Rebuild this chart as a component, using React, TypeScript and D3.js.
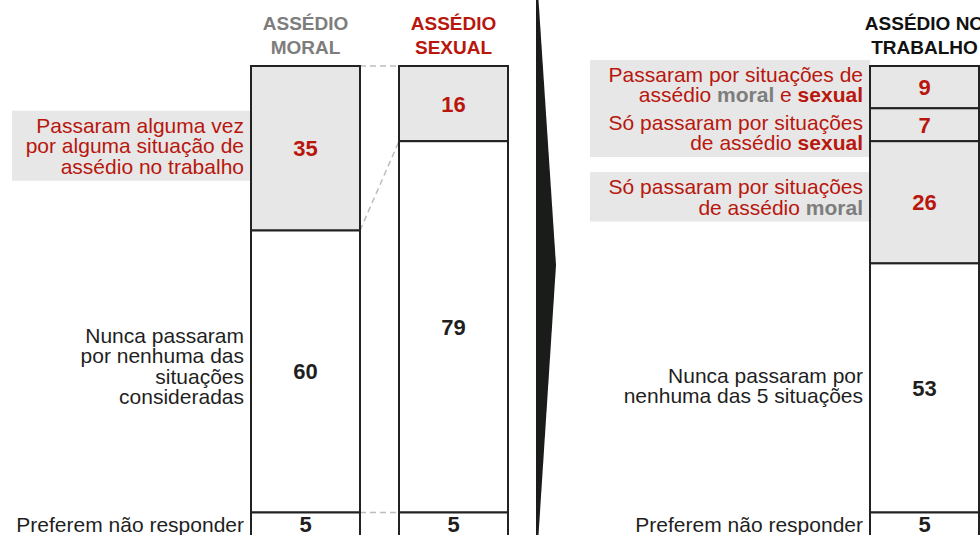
import React from 'react';
import * as d3 from 'd3';

// values (%) per column, top to bottom
const moralValues = [35, 60, 5];
const sexualValues = [16, 79, 5];
const trabalhoValues = [9, 7, 26, 53, 5];
const columnTitles = [['ASSÉDIO', 'MORAL'], ['ASSÉDIO', 'SEXUAL'], ['ASSÉDIO NO', 'TRABALHO']];
// how many of the top segments are "harassment" (grey fill, red number)
const highlightedCounts = [1, 1, 3];

const RED = '#b9160e';
const GREY = '#7d7d7d';
const INK = '#1f1f1f';
const FILL = '#e6e7e6';
const FONT = '"Liberation Sans", Arial, Helvetica, sans-serif';

type Span = { t: string; c?: string; b?: boolean };
type Label = { seg: number; lines: Span[][]; color: string; box?: boolean; dy?: number };

const moralLabels: Label[] = [
  {
    seg: 0, color: RED, box: true,
    lines: [[{ t: 'Passaram alguma vez' }], [{ t: 'por alguma situação de' }], [{ t: 'assédio no trabalho' }]],
  },
  {
    seg: 1, color: INK, dy: -3,
    lines: [[{ t: 'Nunca passaram' }], [{ t: 'por nenhuma das' }], [{ t: 'situações' }], [{ t: 'consideradas' }]],
  },
  { seg: 2, color: INK, dy: 3, lines: [[{ t: 'Preferem não responder' }]] },
];

const trabalhoLabels: Label[] = [
  {
    seg: 0, color: RED, box: true,
    lines: [
      [{ t: 'Passaram por situações de' }],
      [{ t: 'assédio ' }, { t: 'moral', c: GREY, b: true }, { t: ' e ' }, { t: 'sexual', b: true }],
    ],
  },
  {
    seg: 1, color: RED, box: true, dy: 10,
    lines: [[{ t: 'Só passaram por situações' }], [{ t: 'de assédio ' }, { t: 'sexual', b: true }]],
  },
  {
    seg: 2, color: RED, box: true, dy: -3,
    lines: [[{ t: 'Só passaram por situações' }], [{ t: 'de assédio ' }, { t: 'moral', c: GREY, b: true }]],
  },
  {
    seg: 3, color: INK,
    lines: [[{ t: 'Nunca passaram por' }], [{ t: 'nenhuma das 5 situações' }]],
  },
  { seg: 4, color: INK, dy: 3, lines: [[{ t: 'Preferem não responder' }]] },
];

const columns = [
  { values: moralValues, x: 251, w: 109, titleColor: GREY, labels: moralLabels, boxLeft: 12 },
  { values: sexualValues, x: 399, w: 109, titleColor: RED, labels: [] as Label[], boxLeft: 0 },
  { values: trabalhoValues, x: 870, w: 109, titleColor: '#111', labels: trabalhoLabels, boxLeft: 590 },
];

const width = 980;
const height = 535;
const y = d3.scaleLinear().domain([0, 100]).range([66, 536]);
const LH = 20.5;

function bounds(values: number[]) {
  const ends = Array.from(d3.cumsum(values));
  return values.map((v, i) => ({ v, start: i === 0 ? 0 : ends[i - 1], end: ends[i] }));
}

export default function App() {
  const moralB = bounds(moralValues);
  const sexualB = bounds(sexualValues);
  const connectors = [0, 1, 2].map(i => ({
    y1: y(i === 0 ? 0 : moralB[i - 1].end),
    y2: y(i === 0 ? 0 : sexualB[i - 1].end),
  }));

  return (
    <svg width={width} height={height} style={{ position: 'absolute', left: 0, top: 0, background: '#fff' }}
      fontFamily={FONT}>
      {/* divider arrow */}
      <path d="M536,0 L538.5,0 L556,265 L538.5,535 L536,535 Z" fill="#1a1c1a" />

      {/* dashed connectors */}
      {connectors.map((c, i) => (
        <line key={i} x1={columns[0].x + columns[0].w} y1={c.y1} x2={columns[1].x} y2={c.y2}
          stroke="#bdbdbd" strokeWidth={1.5} strokeDasharray="6,4" />
      ))}

      {columns.map((col, ci) => {
        const segs = bounds(col.values);
        const cx = col.x + col.w / 2;
        return (
          <g key={ci}>
            {columnTitles[ci].map((t, li) => (
              <text key={li} x={cx} y={30 + li * 24} textAnchor="middle" fontWeight="bold" fontSize={19}
                fill={col.titleColor}>{t}</text>
            ))}
            {/* label boxes first, under the bars */}
            {col.labels.filter(l => l.box).map((l, li) => {
              const s = segs[l.seg];
              const mid = (y(s.start) + y(s.end)) / 2 + (l.dy || 0);
              const first = mid - ((l.lines.length - 1) / 2) * LH + 5;
              const last = first + (l.lines.length - 1) * LH;
              return (
                <rect key={'b' + li} x={col.boxLeft} y={first - 22} width={col.x - col.boxLeft}
                  height={last + 7 - (first - 22)} fill={FILL} />
              );
            })}
            {segs.map((s, si) => (
              <rect key={si} x={col.x} y={y(s.start)} width={col.w} height={y(s.end) - y(s.start)}
                fill={si < highlightedCounts[ci] ? FILL : '#fff'} stroke="#222" strokeWidth={2} />
            ))}
            {segs.map((s, si) => (
              <text key={'v' + si} x={cx} y={(y(s.start) + y(s.end)) / 2} dy="0.36em" textAnchor="middle"
                fontWeight="bold" fontSize={22} fill={si < highlightedCounts[ci] ? RED : INK}>{s.v}</text>
            ))}
            {col.labels.map((l, li) => {
              const s = segs[l.seg];
              const mid = (y(s.start) + y(s.end)) / 2 + (l.dy || 0);
              const first = mid - ((l.lines.length - 1) / 2) * LH + 5;
              return (
                <text key={'l' + li} textAnchor="end" fontSize={21} fill={l.color}>
                  {l.lines.map((line, k) => (
                    <tspan key={k} x={col.x - 7} y={first + k * LH}>
                      {line.map((sp, m) => (
                        <tspan key={m} fill={sp.c || l.color} fontWeight={sp.b ? 'bold' : 'normal'}
                          style={{ whiteSpace: 'pre' }}>{sp.t}</tspan>
                      ))}
                    </tspan>
                  ))}
                </text>
              );
            })}
          </g>
        );
      })}
    </svg>
  );
}
